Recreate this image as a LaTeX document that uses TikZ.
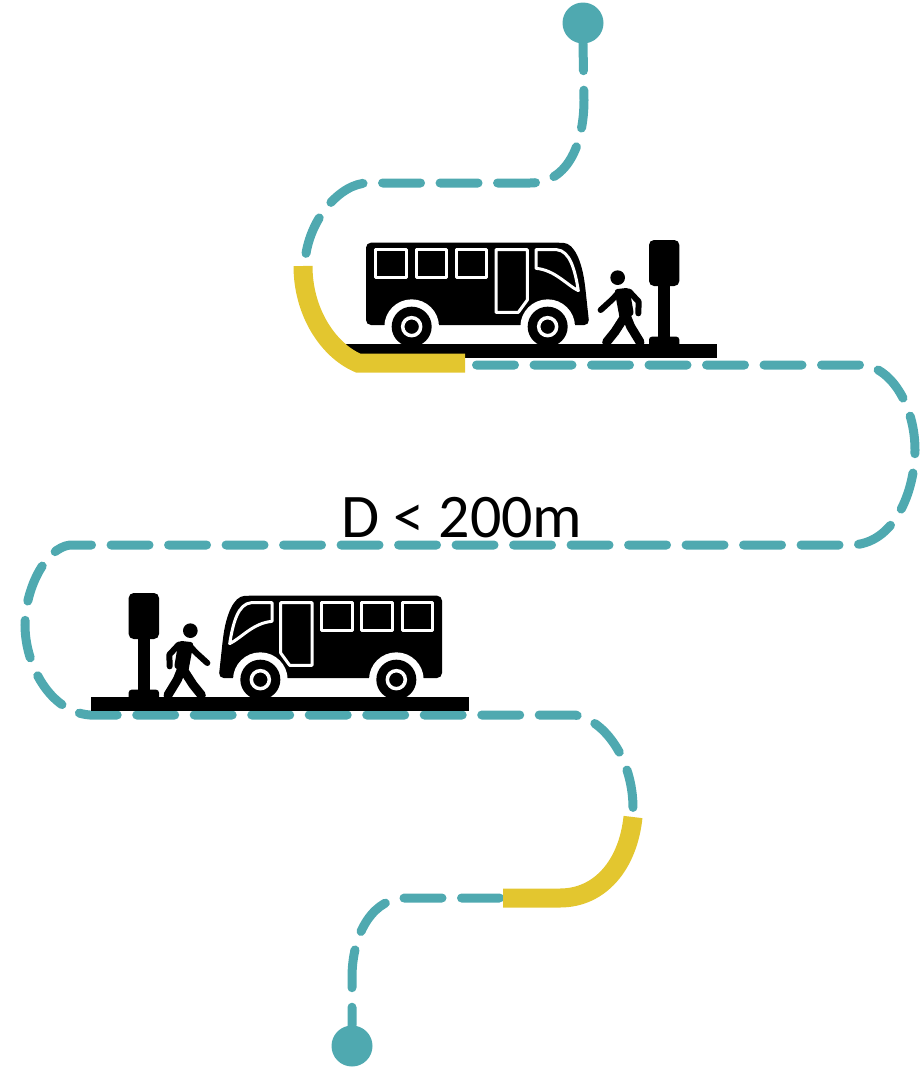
\documentclass[tikz,border=0pt]{standalone}
\usepackage{fontspec}
\setmainfont{Carlito}
\usepackage{xcolor}
\usetikzlibrary{positioning}
\definecolor{routeteal}{HTML}{4FA9B0}
\definecolor{routeyellow}{HTML}{E3C62F}
\tikzset{
  route/.style={color=routeteal, line width=9pt, line cap=round, dash pattern=on 38pt off 19.5pt},
  walk/.style={color=routeyellow, line width=19pt},
  terminal/.style={circle, fill=routeteal, minimum size=41pt, inner sep=0pt},
  limb/.style={draw=black, line width=9pt, line join=round, line cap=round},
  pane/.style={draw=white, line width=3pt, line join=round},
}
% bus, rider and stop on a strip of road, in units of a third of a point
\newcommand{\busstop}{
  \fill[black, rounded corners=5pt] (258,68) -- (835,68) .. controls (885,70) and (905,130) .. (915,195) -- (928,315) -- (258,315) -- cycle;
  \foreach \wheelx in {395,803} {\fill[white] (\wheelx,320) circle (82);}
  \fill[black] (177,372) rectangle (1310,415);
  \foreach \wheelx in {395,803} {
    \fill[black] (\wheelx,320) circle (60);
    \draw[white, line width=3.5pt] (\wheelx,320) circle (27);
  }
  \draw[pane] (286,89) rectangle (378,171);
  \draw[pane] (408,89) rectangle (500,171);
  \draw[pane] (528,89) rectangle (620,171);
  \draw[pane] (648,89) -- (742,89) -- (742,240) -- (715,277) -- (648,277) -- cycle;
  \draw[pane] (768,89) -- (830,89) .. controls (870,92) and (885,150) .. (895,212) .. controls (860,195) and (825,150) .. (768,145) -- cycle;
  % rider
  \fill[black] (1013,173) circle (22);
  \fill[black, rounded corners=3pt] (1003,208) -- (1048,203) -- (1062,285) -- (1020,300) -- cycle;
  \draw[limb, line width=6pt] (1012,222) -- (995,240) -- (962,270);
  \draw[limb, line width=6pt] (1048,215) -- (1076,245) -- (1075,280);
  \draw[limb] (1034,290) -- (1005,335) -- (980,366);
  \draw[limb] (1040,290) -- (1052,320) -- (1080,366);
  % stop
  \fill[black, rounded corners=5pt] (1107,60) rectangle (1198,198);
  \fill[black] (1135,190) rectangle (1170,355);
  \fill[black, rounded corners=3pt] (1107,350) rectangle (1198,380);
}
\begin{document}
\begin{tikzpicture}[x=1pt, y=-1pt]
\useasboundingbox (0,0) rectangle (923,1071);
\node[terminal] (start) at (583,23) {};
\node[terminal] (finish) at (352,1046) {};
\coordinate (walkonea) at (303,266);
\coordinate (walkoneb) at (465,363);
\coordinate (walktwoa) at (633,817);
\coordinate (walktwob) at (503,898);

\draw[route, dash phase=11pt] (start.south) -- (584,100) .. controls (584,140) and (570,183) .. (530,183) -- (368,183) .. controls (340,183) and (308,220) .. (305,262);
\draw[route] (476.5,365) -- (860,365) .. controls (890,365) and (915,405) .. (915,450) .. controls (915,490) and (895,545) .. (850,545) -- (70,545) .. controls (45,548) and (25,590) .. (25,625) .. controls (25,665) and (50,712) .. (90,715) -- (575,715) .. controls (605,720) and (633,760) .. (633,808);
\draw[route] (499.5,898) -- (405,898) .. controls (375,898) and (353,930) .. (352,975) -- (finish.north);

\draw[walk] (walktwoa) .. controls (628,865) and (600,898) .. (560,898) -- (walktwob);

\begin{scope}[shift={(280,220)}, scale=1/3]
  \busstop
\end{scope}
\begin{scope}[shift={(528,573)}, xscale=-1/3, yscale=1/3]
  \busstop
\end{scope}
\draw[walk] (walkonea) .. controls (303,312) and (328,350) .. (358,363) -- (walkoneb);

\node[font=\fontsize{62}{62}\selectfont, inner sep=0pt, anchor=base] (limit) at (462,537) {D < 200m};
\end{tikzpicture}
\end{document}
